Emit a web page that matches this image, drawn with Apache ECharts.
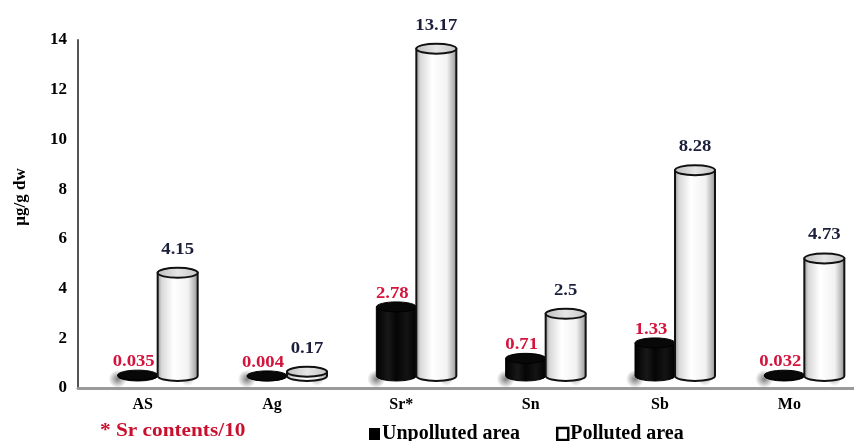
<!DOCTYPE html>
<html>
<head>
<meta charset="utf-8">
<script src="https://cdn.jsdelivr.net/npm/echarts@6/dist/echarts.min.js"></script>
<style>
html,body{margin:0;padding:0;background:#fff;}
#chart{width:854px;height:441px;}
</style>
</head>
<body>
<div id="chart"></div>
<script>
const categories = ['AS', 'Ag', 'Sr*', 'Sn', 'Sb', 'Mo'];
const unpolluted = [0.035, 0.004, 2.78, 0.71, 1.33, 0.032];
const polluted = [4.15, 0.17, 13.17, 2.5, 8.28, 4.73];
const unpollutedLabels = ['0.035', '0.004', '2.78', '0.71', '1.33', '0.032'];
const pollutedLabels = ['4.15', '0.17', '13.17', '2.5', '8.28', '4.73'];
const yTicks = [0, 2, 4, 6, 8, 10, 12, 14];

const SERIF = '"Liberation Serif", "Times New Roman", serif';
const chart = echarts.init(document.getElementById('chart'), null, {renderer: 'canvas'});

function makeRender(kind, labels) {
  return function (params, api) {
    const i = api.value(0), v = api.value(1);
    const c = api.coord([i, v]);
    const b = api.coord([i, 0]);
    const rx = 20, ry = 5;
    const x = c[0] + (kind === 'u' ? -5 : 35);
    const top = c[1] - 12;
    const base = b[1] - 12;
    const children = [];
    const isU = kind === 'u';
    if (isU) {
      children.push({
        type: 'ellipse',
        shape: {cx: x - 20, cy: base + 3, rx: 50, ry: 9},
        style: {fill: {type: 'radial', x: 0.5, y: 0.5, r: 0.5, colorStops: [
          {offset: 0, color: 'rgba(0,0,0,0.5)'}, {offset: 1, color: 'rgba(0,0,0,0)'}]}},
        silent: true
      });
      children.push({
        type: 'ellipse',
        shape: {cx: x + 50, cy: base + 3, rx: 48, ry: 7},
        style: {fill: {type: 'radial', x: 0.5, y: 0.5, r: 0.5, colorStops: [
          {offset: 0, color: 'rgba(0,0,0,0.28)'}, {offset: 1, color: 'rgba(0,0,0,0)'}]}},
        silent: true
      });
    }
    const path = 'M' + (x - rx) + ',' + top + ' L' + (x - rx) + ',' + base +
      ' A' + rx + ',' + ry + ' 0 0 0 ' + (x + rx) + ',' + base +
      ' L' + (x + rx) + ',' + top + ' Z';
    children.push({
      type: 'path',
      shape: {pathData: path},
      style: isU ? {
        fill: {type: 'linear', x: 0, y: 0, x2: 1, y2: 0, colorStops: [
          {offset: 0, color: '#000'}, {offset: 0.3, color: '#181818'}, {offset: 0.5, color: '#050505'},
          {offset: 0.75, color: '#141414'}, {offset: 1, color: '#000'}]},
        stroke: '#000', lineWidth: 1
      } : {
        fill: {type: 'linear', x: 0, y: 0, x2: 1, y2: 0, colorStops: [
          {offset: 0, color: '#8c8c8c'}, {offset: 0.12, color: '#d8d8d8'}, {offset: 0.4, color: '#ffffff'},
          {offset: 0.75, color: '#f2f2f2'}, {offset: 0.92, color: '#b0b0b0'}, {offset: 1, color: '#7a7a7a'}]},
        stroke: '#111', lineWidth: 2
      }
    });
    children.push({
      type: 'ellipse',
      shape: {cx: x, cy: top, rx: rx, ry: ry},
      style: isU ? {fill: '#080808', stroke: '#000', lineWidth: 1} : {
        fill: {type: 'linear', x: 0, y: 0, x2: 1, y2: 0, colorStops: [
          {offset: 0, color: '#bdbdbd'}, {offset: 0.5, color: '#e6e6e6'}, {offset: 1, color: '#c4c4c4'}]},
        stroke: '#111', lineWidth: 2
      }
    });
    children.push({
      type: 'text',
      x: isU ? x - 4 : x,
      y: isU ? top - 5 : top - 15,
      scaleX: 1.1,
      style: {
        text: labels[i],
        align: 'center',
        verticalAlign: 'bottom',
        font: 'bold 17px ' + SERIF,
        fill: isU ? '#d4143c' : '#1b1f3a'
      }
    });
    return {type: 'group', children: children};
  };
}

const option = {
  animation: false,
  backgroundColor: '#fff',
  grid: {left: 78, right: -4, top: 40, bottom: 53, containLabel: false},
  xAxis: {
    type: 'category',
    data: categories,
    axisLine: {show: true, lineStyle: {color: '#9a9a9a', width: 3}},
    axisTick: {show: false},
    axisLabel: {color: '#000', fontFamily: SERIF, fontWeight: 'bold', fontSize: 16, margin: 9}
  },
  yAxis: {
    type: 'value',
    min: 0, max: 14, interval: 2,
    splitLine: {show: false},
    axisLine: {show: true, lineStyle: {color: '#555', width: 2}},
    axisTick: {show: false},
    axisLabel: {color: '#000', fontFamily: SERIF, fontWeight: 'bold', fontSize: 17, margin: 11,
      formatter: function (v) { return yTicks.indexOf(v) >= 0 ? String(v) : ''; }}
  },
  legend: {
    left: 364, top: 419,
    itemWidth: 11, itemHeight: 12, itemGap: 36,
    icon: 'rect',
    textStyle: {color: '#000', fontFamily: SERIF, fontWeight: 'bold', fontSize: 20, padding: [0, 0, 0, -3]},
    data: [
      {name: 'Unpolluted area', itemStyle: {color: '#000', borderColor: '#000', borderWidth: 0}},
      {name: 'Polluted area', itemStyle: {color: '#fff', borderColor: '#000', borderWidth: 2.5}}
    ]
  },
  graphic: [
    {type: 'text', x: 21, y: 197, rotation: Math.PI / 2,
      style: {text: 'μg/g dw', align: 'center', verticalAlign: 'middle', font: 'bold 17px ' + SERIF, fill: '#000'}},
    {type: 'text', x: 100, y: 431, scaleX: 1.12,
      style: {text: '* Sr contents/10', align: 'left', verticalAlign: 'middle', font: 'bold 19px ' + SERIF, fill: '#c8102e'}}
  ],
  series: [
    {
      name: 'Unpolluted area', type: 'custom', clip: false,
      itemStyle: {color: '#000'},
      encode: {x: 0, y: 1},
      renderItem: makeRender('u', unpollutedLabels),
      data: unpolluted.map(function (v, i) { return [i, v]; })
    },
    {
      name: 'Polluted area', type: 'custom', clip: false,
      itemStyle: {color: '#fff', borderColor: '#000', borderWidth: 2},
      encode: {x: 0, y: 1},
      renderItem: makeRender('p', pollutedLabels),
      data: polluted.map(function (v, i) { return [i, v]; })
    }
  ]
};
chart.setOption(option);
</script>
</body>
</html>
